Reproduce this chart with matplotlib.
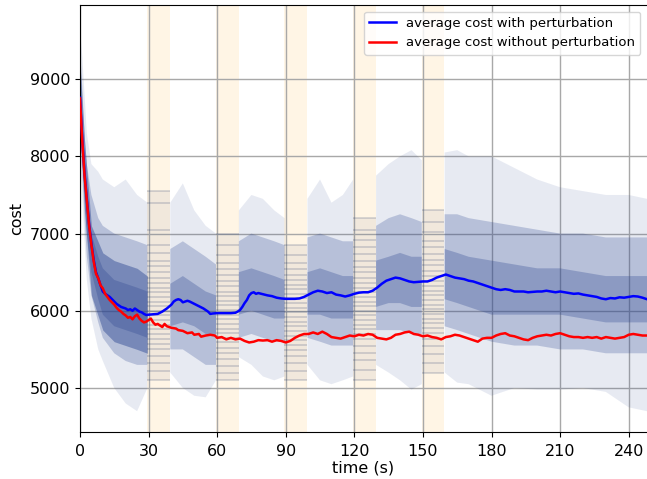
import numpy as np
import matplotlib
matplotlib.use("Agg")
import matplotlib.pyplot as plt

# ---------------- data ----------------
red_t = [0,1,2,3,4,5,6,7,8,9,10,11,12,13,14,15,16,17,18,19,20,21,22,23,24,25,26,27,28,29,30,31,32,33,34,36,37,38,40,42,43,45,47,49,50,52,53,55,57,59,60,62,64,66,68,70,72,74,76,78,80,82,84,86,88,90,92,94,96,98,100,102,104,106,108,110,112,114,116,118,120,122,124,126,128,130,132,134,136,138,140,142,144,146,148,150,152,154,156,158,160,162,164,166,168,170,172,174,176,178,180,182,184,186,188,190,192,194,196,198,200,202,204,206,208,210,212,214,216,218,220,222,224,226,228,230,232,234,236,238,240,242,244,246,248]
red_v = [8750,8200,7750,7430,7100,6850,6640,6480,6420,6330,6290,6220,6180,6140,6110,6080,6040,6010,5990,5960,5940,5910,5920,5890,5930,5950,5900,5870,5850,5860,5880,5900,5850,5820,5830,5790,5830,5800,5780,5770,5750,5740,5710,5720,5690,5700,5665,5680,5690,5680,5650,5660,5630,5650,5630,5640,5610,5590,5600,5620,5615,5620,5600,5620,5610,5590,5610,5650,5680,5700,5700,5720,5700,5730,5700,5660,5650,5640,5660,5680,5670,5690,5680,5700,5690,5650,5640,5630,5650,5690,5700,5720,5730,5700,5690,5670,5680,5660,5650,5630,5660,5670,5690,5680,5660,5640,5620,5600,5640,5650,5650,5680,5700,5710,5680,5670,5650,5630,5620,5650,5670,5680,5690,5680,5700,5710,5690,5670,5660,5660,5650,5660,5650,5660,5640,5660,5650,5640,5650,5660,5690,5700,5690,5680,5680]

blue_t = [0,1,2,3,4,5,6,7,8,9,10,11,12,13,14,15,16,17,18,19,20,21,22,23,24,25,26,27,28,29,30,32,34,36,38,40,41,42,43,44,45,46,47,48,50,52,54,56,57,58,60,62,64,66,68,69,70,71,72,73,74,75,76,77,78,80,82,84,86,88,90,92,94,96,98,100,102,104,106,108,110,112,114,116,118,120,122,124,126,128,130,132,134,136,138,140,142,144,146,148,150,152,154,156,158,160,162,164,166,168,170,172,174,176,178,180,182,184,186,188,190,192,194,196,198,200,202,204,206,208,210,212,214,216,218,220,222,224,226,228,230,232,234,236,238,240,242,244,246,248]
blue_v = [8760,8220,7780,7450,7120,6870,6660,6500,6420,6330,6250,6220,6200,6180,6150,6120,6090,6070,6050,6040,6030,6010,6020,6000,6030,6010,5990,5980,5960,5945,5950,5955,5960,5990,6030,6080,6120,6140,6150,6140,6110,6120,6130,6120,6090,6060,6030,5990,5960,5965,5970,5970,5970,5970,5975,5990,6010,6050,6100,6140,6200,6230,6240,6220,6230,6215,6200,6190,6170,6160,6155,6155,6155,6160,6180,6210,6240,6260,6250,6230,6240,6210,6200,6185,6200,6220,6235,6240,6240,6260,6300,6350,6390,6410,6430,6420,6400,6380,6370,6375,6380,6380,6400,6430,6450,6470,6450,6430,6420,6410,6390,6380,6360,6340,6320,6300,6280,6270,6280,6270,6250,6250,6250,6240,6245,6250,6250,6260,6250,6240,6250,6240,6230,6220,6225,6210,6200,6190,6180,6160,6150,6165,6160,6175,6170,6180,6190,6185,6170,6150]

# spread of the individual perturbed runs (outside the perturbation windows)
# columns: max, p90, p70, p30, p10, min   (nan = inside a window)
nan = np.nan
env_t = [0,1,2,3,5,8,10,15,20,25,29.5,30,39,39.5,45,50,55,59.5,60,69,69.5,75,80,85,89.5,90,99,99.5,105,110,115,119.5,120,129,129.5,135,140,145,149.5,150,159,159.5,165,170,180,190,200,210,220,230,240,248]
env_max = [9700,9300,8800,8300,7900,7800,7700,7600,7700,7500,7400,nan,nan,7400,7650,7300,7100,7000,nan,nan,7300,7500,7450,7300,7200,nan,nan,7450,7700,7400,7500,7700,nan,nan,7750,7900,8000,8080,7950,nan,nan,8050,8080,8000,8000,7850,7700,7600,7550,7500,7500,7450]
env_p90 = [9400,8900,8300,7900,7500,7200,7100,7000,6950,6900,6850,nan,nan,6800,6900,6800,6700,6600,nan,nan,6900,7000,6950,6900,6850,nan,nan,6950,7000,6950,6900,6900,nan,nan,7100,7200,7250,7200,7150,nan,nan,7250,7250,7200,7150,7100,7050,7000,7000,6950,6950,6950]
env_p70 = [9000,8500,7900,7400,7000,6700,6550,6400,6350,6300,6250,nan,nan,6350,6450,6350,6250,6200,nan,nan,6500,6550,6500,6450,6400,nan,nan,6500,6550,6500,6450,6450,nan,nan,6650,6700,6750,6700,6700,nan,nan,6800,6750,6700,6650,6600,6550,6550,6500,6450,6450,6450]
env_p30 = [8600,8100,7500,7000,6500,6150,5950,5800,5750,5700,5650,nan,nan,5800,5850,5800,5700,5700,nan,nan,5950,6000,5950,5900,5900,nan,nan,5950,5950,5900,5900,5900,nan,nan,6050,6100,6100,6050,6050,nan,nan,6150,6100,6050,5950,5950,5950,5950,5900,5850,5850,5850]
env_p10 = [8300,7800,7200,6700,6200,5850,5650,5450,5350,5300,5300,nan,nan,5500,5500,5400,5300,5300,nan,nan,5650,5700,5650,5600,5600,nan,nan,5650,5600,5550,5550,5550,nan,nan,5750,5750,5750,5700,5700,nan,nan,5800,5750,5700,5600,5550,5550,5500,5500,5450,5450,5450]
env_min = [8000,7500,6900,6400,5900,5500,5350,5000,4800,4700,5000,nan,nan,5200,5000,4900,4880,5100,nan,nan,5400,5300,5150,5100,5150,nan,nan,5300,5100,5050,5100,5150,nan,nan,5300,5200,5100,4980,5050,nan,nan,5200,5070,5050,4900,5000,4980,4980,5000,4950,4750,4700]

# very dense start of the runs (first 30 s)
core_t = [0, 2, 5, 10, 15, 20, 25, 29.5]
core_hi = [9200, 8200, 7100, 6750, 6650, 6600, 6550, 6450]
core_lo = [8400, 7300, 6200, 5750, 5600, 5550, 5500, 5450]

# perturbation windows and the levels at which runs are held flat inside them
win_start = [30, 60, 90, 120, 150]
win_levels = [
    [7550,7400,7050,6850,6750,6650,6580,6500,6430,6360,6300,6240,6180,6120,6060,6000,5940,5880,5820,5760,5700,5640,5570,5500,5420,5330,5220,5100],
    [7000,6850,6720,6620,6540,6460,6390,6320,6250,6190,6130,6070,6010,5950,5890,5830,5770,5710,5650,5590,5520,5450,5370,5280,5190,5100],
    [6850,6720,6620,6540,6470,6400,6340,6280,6220,6160,6100,6040,5980,5920,5860,5800,5740,5680,5620,5560,5490,5410,5320,5220,5100],
    [7200,7050,6920,6820,6730,6650,6570,6500,6430,6360,6300,6240,6180,6120,6060,6000,5940,5880,5820,5760,5700,5630,5550,5460,5360,5240,5100],
    [7300,7150,7020,6910,6820,6740,6660,6590,6520,6450,6380,6320,6260,6200,6140,6080,6020,5960,5900,5840,5780,5710,5630,5540,5440,5320,5200],
]

x_ticks = [0, 30, 60, 90, 120, 150, 180, 210, 240]
y_ticks = [5000, 6000, 7000, 8000, 9000]

# ---------------- plot ----------------
run_col = "#2b4590"
fig = plt.figure(figsize=(6.47, 4.79), dpi=100)
ax = fig.add_axes([0.1236, 0.098, 0.8764, 0.8916])

for s in win_start:
    ax.axvspan(s - 0.6, s + 9.4, color="orange", alpha=0.1, lw=0, zorder=0.5)

et = np.array(env_t, dtype=float)
ax.fill_between(et, env_min, env_max, color=run_col, alpha=0.11, lw=0, zorder=1)
ax.fill_between(et, env_p10, env_p90, color=run_col, alpha=0.25, lw=0, zorder=1)
ax.fill_between(et, env_p30, env_p70, color=run_col, alpha=0.30, lw=0, zorder=1)
ax.fill_between(core_t, core_lo, core_hi, color=run_col, alpha=0.45, lw=0, zorder=1)

for s, lev in zip(win_start, win_levels):
    ax.fill_between([s - 0.6, s + 9.4], min(lev), max(lev), color="#3a4a70", alpha=0.07, lw=0, zorder=1)
    ax.hlines(lev, s - 0.6, s + 9.4, color="#2b3f70", alpha=0.2, lw=1.3, zorder=1)

ax.plot(blue_t, blue_v, color="blue", lw=1.8, label="average cost with perturbation", zorder=3)
ax.plot(red_t, red_v, color="red", lw=1.8, label="average cost without perturbation", zorder=3)

ax.set_xlim(0, 248)
ax.set_ylim(4430, 9960)
ax.set_xticks(x_ticks)
ax.set_yticks(y_ticks)
ax.tick_params(labelsize=11.5)
ax.tick_params(axis="x", pad=5)
ax.grid(True, color="#a8a8a8", lw=1.0)
ax.set_axisbelow(True)
ax.spines["right"].set_visible(False)
ax.set_xlabel("time (s)", fontsize=11.5, labelpad=1)
ax.set_ylabel("cost", fontsize=11.5)
ax.legend(loc="upper right", fontsize=9.5)

fig.savefig("out.png", dpi=100)
